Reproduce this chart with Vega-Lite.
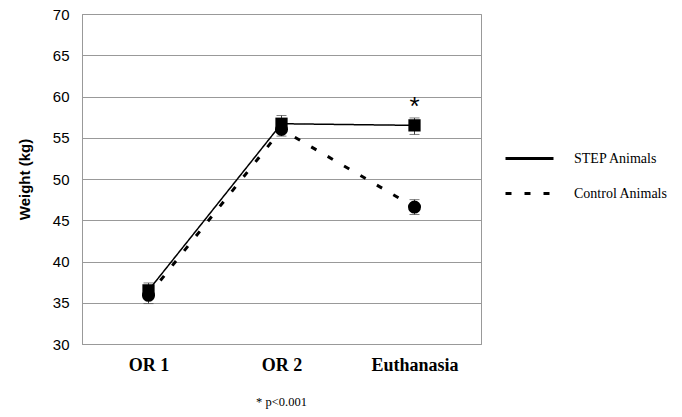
{
  "$schema": "https://vega.github.io/schema/vega-lite/v6.json",
  "width": 399,
  "height": 330,
  "autosize": "none",
  "padding": {"left": 82, "top": 14, "right": 201, "bottom": 73},
  "background": "white",
  "config": {
    "view": {"stroke": "#999999", "strokeWidth": 1},
    "axis": {"gridColor": "#999999", "gridWidth": 1, "domainColor": "#999999", "ticks": false}
  },
  "title": {
    "text": "* p<0.001",
    "orient": "bottom",
    "anchor": "middle",
    "font": "Liberation Serif",
    "fontSize": 12.5,
    "fontWeight": "normal",
    "color": "black",
    "offset": 22
  },
  "data": {
    "values": [
      {"time": "OR 1", "group": "STEP Animals", "weight": 36.5, "lo": 35.6, "hi": 37.4},
      {"time": "OR 2", "group": "STEP Animals", "weight": 56.7, "lo": 55.8, "hi": 57.7},
      {"time": "Euthanasia", "group": "STEP Animals", "weight": 56.5, "lo": 55.4, "hi": 57.4},
      {"time": "OR 1", "group": "Control Animals", "weight": 35.9, "lo": 34.9, "hi": 36.8},
      {"time": "OR 2", "group": "Control Animals", "weight": 56.0, "lo": 55.2, "hi": 56.8},
      {"time": "Euthanasia", "group": "Control Animals", "weight": 46.6, "lo": 45.7, "hi": 47.5}
    ]
  },
  "encoding": {
    "x": {
      "field": "time", "type": "nominal", "sort": ["OR 1", "OR 2", "Euthanasia"],
      "scale": {"type": "point", "padding": 0.5},
      "axis": {"title": null, "labelAngle": 0, "labelFont": "Liberation Serif", "labelFontWeight": "bold", "labelFontSize": 18, "labelColor": "black", "labelPadding": 12, "grid": false}
    }
  },
  "layer": [
    {
      "mark": {"type": "rule", "color": "#444444", "strokeWidth": 1},
      "encoding": {
        "y": {"field": "lo", "type": "quantitative", "scale": {"domain": [30, 70]},
          "axis": {"title": "Weight (kg)", "values": [30,35,40,45,50,55,60,65,70], "titleFont": "Liberation Sans", "titleFontWeight": "bold", "titleFontSize": 15, "titleColor": "black", "titlePadding": 20, "labelFont": "Liberation Sans", "labelFontSize": 15, "labelColor": "black", "labelPadding": 13}},
        "y2": {"field": "hi"}
      }
    },
    {
      "mark": {"type": "tick", "color": "#444444", "thickness": 1, "size": 10, "orient": "horizontal"},
      "encoding": {"y": {"field": "lo", "type": "quantitative"}}
    },
    {
      "mark": {"type": "tick", "color": "#444444", "thickness": 1, "size": 10, "orient": "horizontal"},
      "encoding": {"y": {"field": "hi", "type": "quantitative"}}
    },
    {
      "transform": [{"filter": "datum.group === 'STEP Animals'"}],
      "mark": {"type": "line", "color": "black", "strokeWidth": 1.5},
      "encoding": {
        "y": {"field": "weight", "type": "quantitative"},
        "strokeDash": {
          "field": "group", "type": "nominal",
          "scale": {"domain": ["STEP Animals", "Control Animals"], "range": [[1, 0], [6, 13]]},
          "legend": {
            "title": null, "orient": "none", "legendX": 422, "legendY": 119,
            "symbolType": "stroke", "symbolSize": 2304, "symbolStrokeWidth": 3, "symbolStrokeColor": "black",
            "labelFont": "Liberation Serif", "labelFontSize": 14, "labelColor": "black", "labelOffset": 19,
            "rowPadding": 2,
            "encode": {"symbols": {"update": {
              "strokeDash": {"signal": "datum.value === 'Control Animals' ? [3, 2] : [1, 0]"}
            }}}
          }
        }
      }
    },
    {
      "transform": [{"filter": "datum.group === 'Control Animals'"}],
      "mark": {"type": "line", "color": "black", "strokeWidth": 3},
      "encoding": {
        "y": {"field": "weight", "type": "quantitative"},
        "strokeDash": {"field": "group", "type": "nominal"}
      }
    },
    {
      "transform": [{"filter": "datum.group === 'STEP Animals'"}],
      "mark": {"type": "square", "color": "black", "opacity": 1, "size": 150},
      "encoding": {"y": {"field": "weight", "type": "quantitative"}}
    },
    {
      "transform": [{"filter": "datum.group === 'Control Animals'"}],
      "mark": {"type": "circle", "color": "black", "opacity": 1, "size": 170},
      "encoding": {"y": {"field": "weight", "type": "quantitative"}}
    },
    {
      "data": {"values": [{"time": "Euthanasia", "pos": 57.8, "label": "*"}]},
      "mark": {"type": "text", "font": "Liberation Sans", "fontSize": 26, "color": "black", "baseline": "alphabetic"},
      "encoding": {"y": {"field": "pos", "type": "quantitative"}, "text": {"field": "label"}}
    }
  ]
}
